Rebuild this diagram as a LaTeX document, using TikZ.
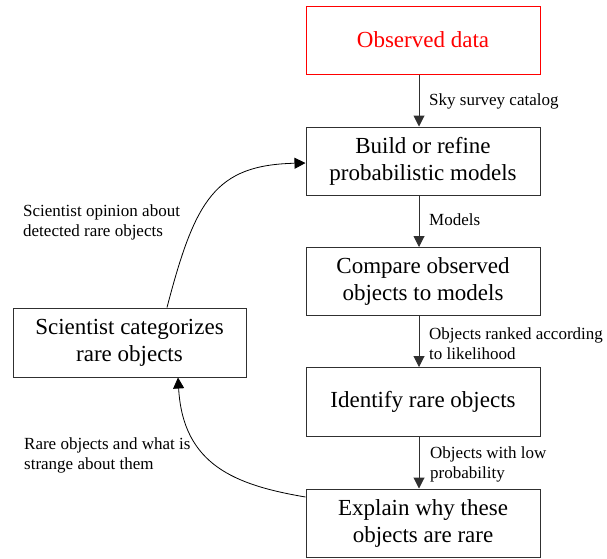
\documentclass[tikz,border=0pt]{standalone}
\usepackage{fontspec}
\setmainfont{Liberation Serif}
\usetikzlibrary{arrows.meta}
\definecolor{linegray}{HTML}{303030}
\begin{document}
\begin{tikzpicture}[x=1pt,y=-1pt,
  box/.style={draw=linegray, line width=1pt, minimum width=234pt, minimum height=68pt,
    inner sep=0pt, align=center, font=\fontsize{23}{27}\selectfont},
  lbl/.style={anchor=west, align=left, inner sep=0pt, font=\fontsize{17}{20}\selectfont},
  arr/.style={draw=linegray, line width=1pt, -{Triangle[width=11pt,length=11pt]}},
  crv/.style={draw=black, line width=0.8pt, -{Triangle[width=11pt,length=11pt]}}]
\useasboundingbox (0,0) rectangle (607,558);
\node[box, draw=red, text=red] (obs) at (423,40) {Observed data};
\node[box] (build) at (423,161) {Build or refine\\probabilistic models};
\node[box] (cmp) at (423,281.5) {Compare observed\\objects to models};
\node[box, minimum height=69pt] (ident) at (423,402) {Identify rare objects};
\node[box] (expl) at (423,523) {Explain why these\\objects are rare};
\node[box, minimum width=233pt, minimum height=69pt] (sci) at (129.5,342.5) {Scientist categorizes\\rare objects};

\draw[arr] ([xshift=-4pt]obs.south) -- ([xshift=-4pt]build.north);
\draw[arr] ([xshift=-4pt]build.south) -- ([xshift=-4pt]cmp.north);
\draw[arr] ([xshift=-4pt]cmp.south) -- ([xshift=-4pt]ident.north);
\draw[arr] ([xshift=-4pt]ident.south) -- ([xshift=-4pt]expl.north);

\draw[crv] ([xshift=37.5pt]sci.north) .. controls (195,200) and (215,165) .. ([yshift=-2pt]build.west);
\draw[crv] ([yshift=26pt]expl.west) .. controls (235,485) and (183,465) .. ([xshift=48.5pt]sci.south);

\node[lbl] (l1) at (429,101) {Sky survey catalog};
\node[lbl] (l2) at (429,220) {Models};
\node[lbl] (l3) at (429,344) {Objects ranked according\\to likelihood};
\node[lbl] (l4) at (430,464) {Objects with low\\probability};
\node[lbl] (l5) at (23,222.5) {Scientist opinion about\\detected rare objects};
\node[lbl] (l6) at (24,455) {Rare objects and what is\\strange about them};
\end{tikzpicture}
\end{document}
